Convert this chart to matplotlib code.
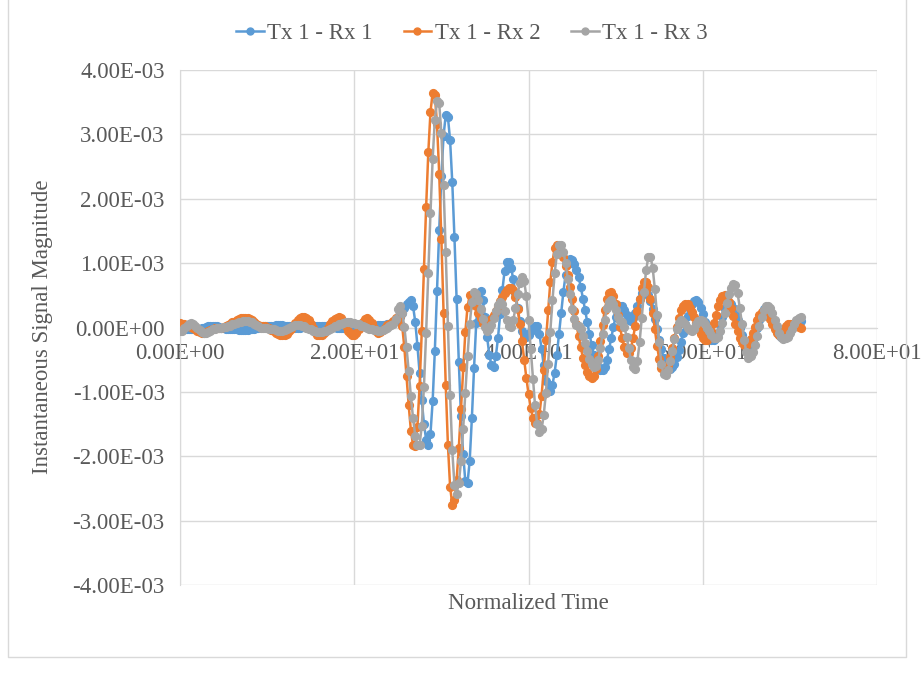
import numpy as np
import matplotlib
matplotlib.use('Agg')
import matplotlib.pyplot as plt
from matplotlib.ticker import FuncFormatter
from matplotlib.lines import Line2D

plt.rcParams['font.family'] = ['Liberation Serif', 'DejaVu Serif']

# sample spacing of the normalized time axis
dt = 0.25

# signal samples, in units of 1e-5
rx1 = [
    0, -1, -1, -2, -2, -3, -3, -3, -2, -2, -1, 0, 1, 2, 3, 3, 3, 2, 1, 0,
    -1, -2, -2, -2, -2, -3, -3, -4, -4, -4, -4, -4, -3, -3, -2, -1, 0, 1, 2, 2,
    2, 3, 3, 3, 4, 4, 4, 4, 3, 3, 2, 2, 1, 0, 0, 0, 1, 1, 2, 2,
    3, 3, 3, 3, 3, 2, 2, 2, 1, 1, 1, 1, 0, 0, 0, -1, -1, -1, -1, -1,
    0, 0, 1, 2, 2, 3, 3, 3, 3, 3, 3, 4, 4, 4, 4, 5, 6, 7, 8, 10,
    12, 16, 22, 30, 36, 40, 42, 33, 9, -28, -70, -113, -150, -174, -183, -165, -114, -36, 56, 151,
    235, 298, 330, 327, 291, 226, 140, 44, -53, -138, -197, -239, -242, -207, -141, -63, 7, 50, 56, 42,
    16, -15, -42, -59, -61, -45, -16, 21, 58, 87, 102, 102, 93, 75, 54, 31, 10, -5, -14, -14,
    -11, -6, -1, 2, 2, -10, -33, -59, -83, -98, -99, -89, -70, -43, -10, 23, 55, 81, 98, 106,
    105, 99, 90, 78, 63, 45, 27, 8, -10, -27, -42, -53, -62, -66, -66, -61, -50, -34, -16, 1,
    17, 28, 33, 33, 27, 19, 12, 10, 14, 23, 34, 45, 54, 58, 57, 51, 41, 28, 13, -3,
    -19, -34, -47, -57, -63, -64, -61, -56, -46, -35, -22, -8, 5, 18, 28, 36, 41, 42, 39, 31,
    21, 9, -3, -13, -19, -20, -16, -8, 4, 17, 28, 35, 38, 36, 30, 21, 11, -1, -12, -22,
    -28, -31, -29, -23, -13, 0, 12, 22, 28, 30, 27, 21, 13, 4, -5, -11, -15, -15, -13, -10,
    -6, -1, 3, 7, 9, 10,
]
rx2 = [
    7, 6, 5, 3, 2, 1, -1, -3, -6, -7, -8, -8, -7, -6, -4, -2, -1, 0, 0, 0,
    1, 2, 4, 6, 8, 9, 11, 13, 14, 15, 15, 15, 13, 11, 9, 6, 4, 3, 2, 2,
    0, -1, -4, -6, -8, -10, -11, -12, -12, -10, -6, -2, 2, 7, 11, 14, 16, 17, 15, 11,
    5, -1, -7, -11, -12, -11, -9, -5, 0, 5, 10, 13, 15, 16, 14, 9, 2, -5, -9, -12,
    -11, -8, -3, 3, 9, 13, 14, 12, 7, 0, -5, -8, -7, -4, 0, 4, 5, 6, 10, 14,
    17, 18, 3, -31, -75, -121, -160, -183, -184, -154, -91, -6, 91, 187, 272, 335, 365, 361, 316, 239,
    138, 23, -89, -182, -247, -275, -268, -237, -187, -126, -62, -7, 32, 50, 48, 43, 34, 23, 14, 7,
    5, 6, 9, 13, 19, 26, 34, 41, 48, 54, 58, 61, 62, 58, 47, 29, 5, -21, -50, -78,
    -103, -125, -140, -149, -149, -135, -106, -66, -20, 27, 70, 102, 123, 128, 125, 119, 109, 96, 81, 63,
    45, 25, 5, -13, -31, -47, -59, -69, -75, -78, -75, -64, -44, -21, 4, 27, 44, 54, 55, 49,
    36, 19, 1, -17, -31, -39, -39, -32, -17, 3, 25, 45, 61, 70, 71, 63, 45, 23, -3, -28,
    -49, -63, -68, -65, -58, -46, -32, -16, 1, 15, 27, 34, 37, 36, 31, 24, 16, 7, -2, -10,
    -16, -19, -20, -15, -6, 7, 20, 33, 43, 49, 50, 46, 39, 30, 18, 6, -6, -16, -23, -27,
    -28, -24, -18, -9, 1, 11, 19, 24, 26, 24, 20, 13, 5, -2, -8, -11, -11, -6, 2, 6,
    6, 5, 3, 2, 1, 0,
]
rx3 = [
    -6, -5, -1, 3, 6, 7, 6, 3, 0, -4, -7, -8, -8, -7, -5, -3, -2, 0, 0, 0,
    1, 1, 2, 3, 5, 6, 7, 8, 9, 10, 10, 10, 9, 8, 6, 4, 2, 0, 0, 0,
    -1, -2, -3, -3, -4, -5, -5, -5, -4, -2, 0, 1, 3, 4, 4, 4, 3, 2, 0, -2,
    -3, -5, -6, -7, -7, -7, -6, -5, -4, -2, 0, 2, 3, 5, 6, 7, 8, 8, 8, 7,
    7, 6, 5, 3, 2, 1, -1, -2, -3, -4, -4, -5, -5, -4, -2, 0, 2, 4, 5, 13,
    28, 33, 23, 1, -31, -68, -107, -141, -168, -183, -182, -153, -92, -8, 85, 178, 262, 323, 352, 348,
    302, 221, 117, 3, -105, -191, -244, -258, -242, -208, -158, -102, -45, 5, 39, 55, 52, 43, 28, 13,
    1, -5, -3, 4, 15, 26, 35, 39, 36, 25, 11, 2, 1, 11, 30, 52, 69, 78, 72, 49,
    12, -33, -80, -121, -150, -163, -158, -136, -101, -56, -7, 42, 84, 114, 128, 128, 118, 100, 76, 52,
    29, 13, 4, 2, -3, -13, -24, -37, -49, -57, -62, -60, -50, -32, -10, 12, 30, 40, 42, 36,
    27, 17, 10, 8, 1, -14, -32, -50, -62, -65, -52, -23, 15, 55, 89, 109, 110, 93, 60, 19,
    -23, -56, -73, -74, -66, -52, -36, -18, -3, 7, 11, 9, 5, 0, -4, -5, -2, 5, 10, 12,
    10, 6, 0, -6, -12, -16, -17, -14, -6, 7, 22, 38, 52, 62, 67, 66, 53, 31, 5, -19,
    -38, -47, -45, -38, -27, -13, 2, 16, 27, 33, 34, 30, 22, 12, 2, -8, -15, -18, -17, -14,
    -8, -2, 5, 11, 15, 16,
]

series_names = ['Tx 1 - Rx 1', 'Tx 1 - Rx 2', 'Tx 1 - Rx 3']
series_colors = ['#5B9BD5', '#ED7D31', '#A5A5A5']
x_ticks = [0, 20, 40, 60, 80]
y_ticks = [-0.004, -0.003, -0.002, -0.001, 0, 0.001, 0.002, 0.003, 0.004]

txt = '#595959'
grid = '#D9D9D9'

fig = plt.figure(figsize=(9.24, 6.75), dpi=100)
ax = fig.add_axes([180 / 924, 90 / 675, 697 / 924, 515 / 675])

t = np.arange(len(rx1)) * dt
for vals, name, col in zip([rx1, rx2, rx3], series_names, series_colors):
    ax.plot(t, np.array(vals) * 1e-5, color=col, lw=1.8, marker='o',
            ms=5.6, mec=col, mfc=col, label=name, zorder=3)

ax.set_xlim(0, 80)
ax.set_ylim(-0.004, 0.004)
ax.set_xticks(x_ticks)
ax.set_yticks(y_ticks)
fmt = FuncFormatter(lambda v, p: '{:.2E}'.format(v))
ax.xaxis.set_major_formatter(fmt)
ax.yaxis.set_major_formatter(fmt)

ax.grid(True, color=grid, lw=1.0, zorder=0)
ax.set_axisbelow(True)
for s in ['top', 'right']:
    ax.spines[s].set_visible(False)
ax.spines['left'].set_color(grid)
ax.spines['bottom'].set_color(grid)
ax.spines['bottom'].set_position(('data', 0))
ax.tick_params(axis='both', length=0, labelsize=16.5, colors=txt)
ax.tick_params(axis='x', pad=11)
ax.tick_params(axis='y', pad=11)

ax.text(0.5, -0.035, 'Normalized Time', transform=ax.transAxes,
        ha='center', va='center', fontsize=16.5, color=txt)
fig.text(43 / 924, 1 - 327 / 675, 'Instantaneous Signal Magnitude',
         rotation=90, ha='center', va='center', fontsize=16.5, color=txt)

handles = [Line2D([], [], color=c, lw=1.8, marker='o', ms=5) for c in series_colors]
fig.legend(handles, series_names, loc='center', bbox_to_anchor=(472 / 924, 1 - 33 / 675),
           ncol=3, frameon=False, fontsize=16.5, handlelength=1.2, handletextpad=0.15,
           columnspacing=1.35, labelcolor=txt)

# chart area border
fig.add_artist(Line2D([8 / 924, 8 / 924, 906 / 924, 906 / 924],
                      [1.0, 1 - 657 / 675, 1 - 657 / 675, 1.0],
                      transform=fig.transFigure, color=grid, lw=1.0))

fig.savefig('out.png', dpi=100)
